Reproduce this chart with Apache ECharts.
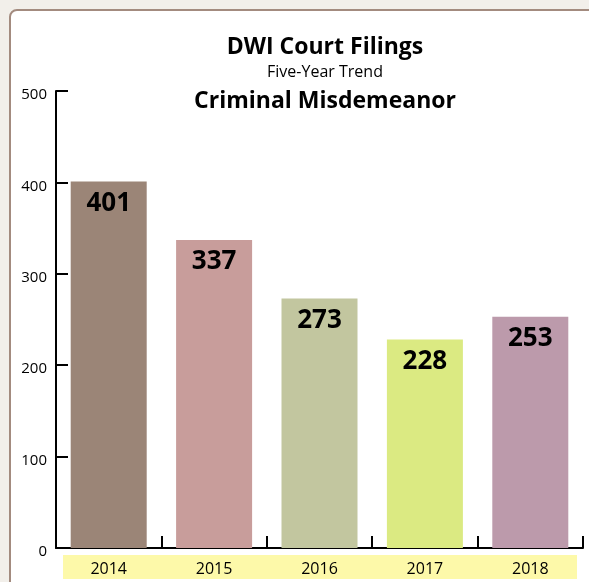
<!DOCTYPE html>
<html>
<head>
<meta charset="utf-8">
<script src="https://cdn.jsdelivr.net/npm/echarts@6/dist/echarts.min.js"></script>
<style>
html,body{margin:0;padding:0;background:#f2efea;}
#c{width:589px;height:582px;}
</style>
</head>
<body>
<div id="c"></div>
<script>
var years = ['2014', '2015', '2016', '2017', '2018'];
var filings = [401, 337, 273, 228, 253];
var barColors = ['#9b8577', '#c89d9b', '#c2c69f', '#dbea82', '#bc9aab'];
var yTicks = [0, 100, 200, 300, 400, 500];

var FONT = '"Open Sans", "Noto Sans", sans-serif';
var chart = echarts.init(document.getElementById('c'));
var option = {
  backgroundColor: '#f2efea',
  animation: false,
  graphic: [
    {type: 'rect', z: -10, shape: {x: 10, y: 10, width: 620, height: 620, r: 7},
     style: {fill: '#ffffff', stroke: '#a38b7f', lineWidth: 2}},
    {type: 'rect', z: -5, shape: {x: 63, y: 555, width: 514, height: 24},
     style: {fill: '#fdf9a9'}}
  ],
  title: [
    {text: 'DWI Court Filings', left: 320, top: 31, textAlign: 'center',
     textStyle: {fontFamily: FONT, fontSize: 23, fontWeight: 'bold', color: '#000'}},
    {text: 'Five-Year Trend', left: 320, top: 59, textAlign: 'center',
     textStyle: {fontFamily: FONT, fontSize: 16, fontWeight: 'normal', color: '#000'}},
    {text: 'Criminal Misdemeanor', left: 320, top: 85, textAlign: 'center',
     textStyle: {fontFamily: FONT, fontSize: 23, fontWeight: 'bold', color: '#000'}}
  ],
  grid: {left: 56, right: 6, top: 91, bottom: 34, containLabel: false},
  xAxis: {
    type: 'category',
    data: years,
    axisLine: {lineStyle: {color: '#000', width: 2}},
    axisTick: {show: true, inside: true, length: 12, alignWithLabel: false, lineStyle: {color: '#000', width: 2}},
    axisLabel: {margin: 13, fontFamily: FONT, fontSize: 16, color: '#000'},
    splitLine: {show: false}
  },
  yAxis: {
    type: 'value',
    min: yTicks[0],
    max: yTicks[yTicks.length - 1],
    interval: yTicks[1] - yTicks[0],
    axisLine: {show: true, lineStyle: {color: '#000', width: 2}},
    axisTick: {show: true, inside: true, length: 12, lineStyle: {color: '#000', width: 2}},
    axisLabel: {
      margin: 9,
      formatter: '{a|{value}}',
      rich: {a: {padding: [8, 0, 0, 0], fontFamily: FONT, fontSize: 15, color: '#000'}}
    },
    splitLine: {show: false}
  },
  series: [{
    type: 'bar',
    barWidth: 76,
    data: filings.map(function (v, i) {
      return {value: v, itemStyle: {color: barColors[i]}};
    }),
    label: {
      show: true, position: 'insideTop', distance: 9,
      fontFamily: FONT, fontSize: 26, fontWeight: 'bold', color: '#000'
    }
  }]
};
chart.setOption(option);
</script>
</body>
</html>
